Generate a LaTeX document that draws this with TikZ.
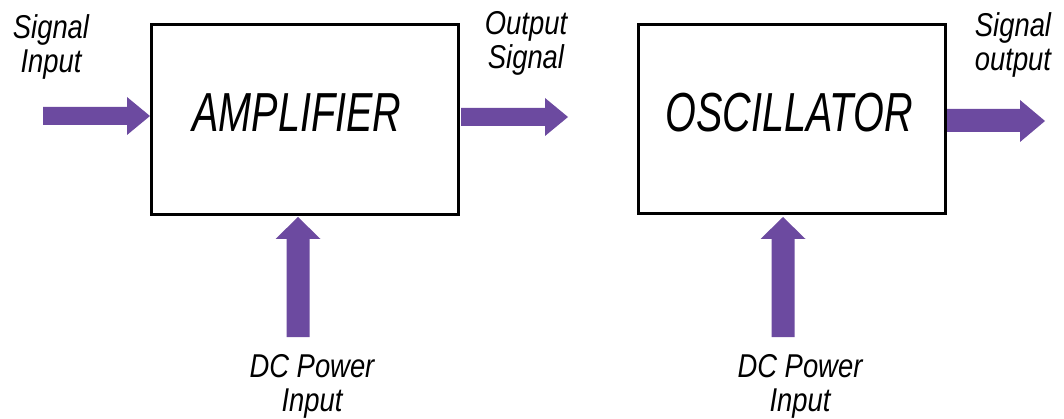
\documentclass[tikz,border=0pt]{standalone}
\usepackage{fontspec}
\setmainfont{Liberation Sans}
\definecolor{arrowpurple}{RGB}{108,74,160}
\tikzset{
  blockbox/.style={draw=black, line width=3pt, fill=white},
  bigtext/.style={font=\fontsize{55}{55}\selectfont\itshape, xscale=0.72, transform shape, inner sep=0pt},
  smalltext/.style={font=\fontsize{33}{34}\selectfont\itshape, align=center, xscale=0.83, transform shape, inner sep=0pt},
  blockarrow/.style={fill=arrowpurple, draw=none}
}
\begin{document}
\begin{tikzpicture}[x=1pt,y=-1pt]
\useasboundingbox (0,0) rectangle (1064,419);
% boxes
\draw[blockbox] (151,25) rectangle (458,215);
\draw[blockbox] (638,25) rectangle (945,214);
\node[bigtext] (amp) at (297,113) {AMPLIFIER};
\node[bigtext] (osc) at (789,113) {OSCILLATOR};
% horizontal arrows
\fill[blockarrow] (43,107) -- (127,107) -- (127,97) -- (150,116) -- (127,135) -- (127,125) -- (43,125) -- cycle;
\fill[blockarrow] (461,108) -- (545,108) -- (545,98) -- (568,117) -- (545,136) -- (545,126) -- (461,126) -- cycle;
\fill[blockarrow] (947,109) -- (1020,109) -- (1020,100) -- (1045,121) -- (1020,142) -- (1020,132) -- (947,132) -- cycle;
% vertical arrows
\fill[blockarrow] (286.5,337) -- (286.5,239) -- (275.5,239) -- (298,217) -- (320.5,239) -- (309.5,239) -- (309.5,337) -- cycle;
\fill[blockarrow] (771.5,337) -- (771.5,239) -- (760.5,239) -- (783,217) -- (805.5,239) -- (794.5,239) -- (794.5,337) -- cycle;
% labels
\node[smalltext] (sigin) at (51,47) {Signal\\Input};
\node[smalltext] (outsig) at (526,43) {Output\\Signal};
\node[smalltext] (sigout) at (1013,45) {Signal\\output};
\node[smalltext] (dc1) at (312,386) {DC Power\\Input};
\node[smalltext] (dc2) at (800,386) {DC Power\\Input};
\end{tikzpicture}
\end{document}
